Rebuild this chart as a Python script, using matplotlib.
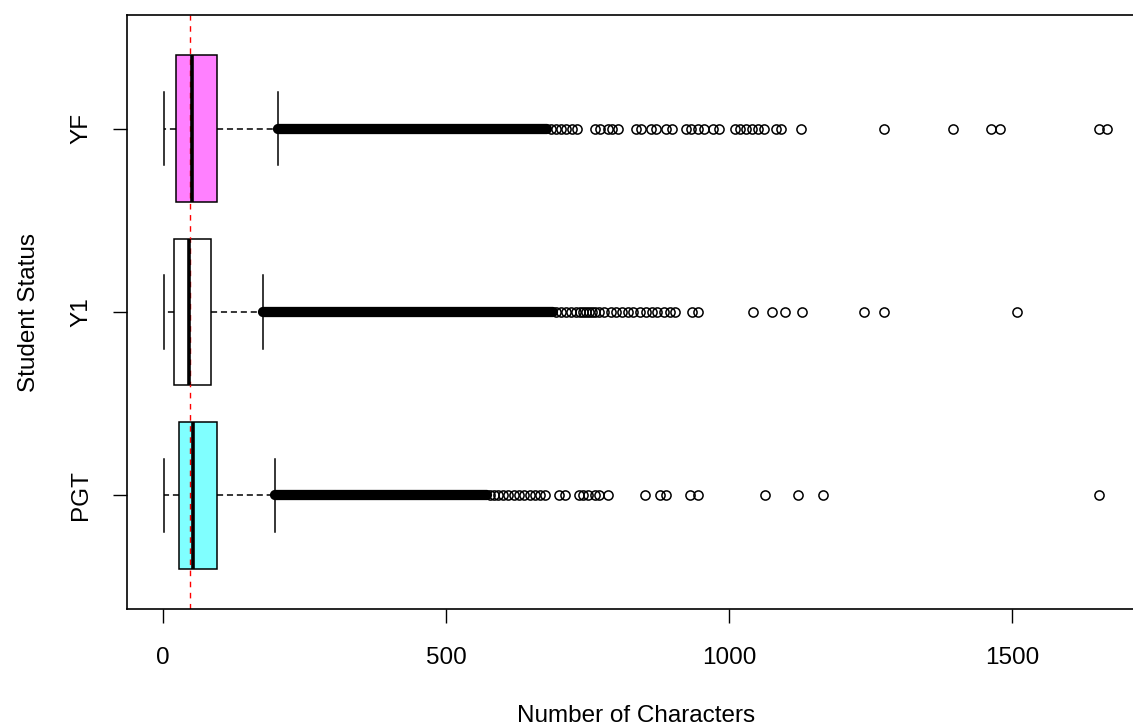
import matplotlib.pyplot as plt

groups = ["PGT", "Y1", "YF"]
box_colors = ["#80FFFF", "#FFFFFF", "#FF80FF"]

# five-number summaries (characters per post)
whis_lo = [2, 2, 2]
q1 = [28, 19, 22]
median = [53, 45, 50]
q3 = [95, 84, 95]
whis_hi = [197, 177, 202]

overall_median = 47

# stretch where the outlier circles overlap into a solid run
dense_from = [197, 177, 202]
dense_to = [572, 689, 678]

# the outliers past the solid run
sparse_pgt = [578, 585, 592, 601, 610, 620, 629, 638, 648, 657, 666, 675, 700, 710,
              735, 742, 751, 762, 770, 785, 852, 878, 889, 931, 944, 1064, 1122,
              1166, 1654]
sparse_y1 = [694, 703, 712, 721, 730, 737, 742, 747, 753, 758, 763, 770, 779, 792,
             800, 811, 822, 830, 843, 853, 864, 873, 885, 896, 905, 935, 945, 1042,
             1076, 1099, 1128, 1239, 1274, 1509]
sparse_yf = [686, 694, 703, 712, 723, 731, 763, 772, 785, 793, 804, 836, 845, 862,
             871, 889, 899, 924, 933, 945, 956, 972, 982, 1011, 1019, 1030, 1041,
             1051, 1062, 1083, 1092, 1127, 1274, 1395, 1462, 1479, 1654, 1668]
sparse = [sparse_pgt, sparse_y1, sparse_yf]

plt.rcParams["font.family"] = ["Liberation Sans", "DejaVu Sans"]

fig = plt.figure(figsize=(11.33, 7.26), dpi=100)
ax = fig.add_axes([127 / 1133, 117 / 726, 0.8987, 594 / 726])

stats = []
for i in range(3):
    stats.append(dict(med=median[i], q1=q1[i], q3=q3[i],
                      whislo=whis_lo[i], whishi=whis_hi[i], fliers=sparse[i]))

pos = [1, 2, 3]
bp = ax.bxp(stats, positions=pos, widths=0.8, capwidths=0.4,
            orientation="horizontal", patch_artist=True,
            boxprops=dict(edgecolor="black", linewidth=1.1),
            medianprops=dict(color="black", linewidth=2.6),
            whiskerprops=dict(color="black", linewidth=1.1, linestyle=(0, (4, 2.5))),
            capprops=dict(color="black", linewidth=1.1),
            flierprops=dict(marker="o", markerfacecolor="none",
                            markeredgecolor="black", markersize=6.6,
                            markeredgewidth=1.1, linestyle="none"))
for patch, c in zip(bp["boxes"], box_colors):
    patch.set_facecolor(c)

for i in range(3):
    ax.plot([dense_from[i], dense_to[i]], [pos[i], pos[i]], color="black",
            linewidth=7.4, solid_capstyle="round")

ax.axvline(overall_median, color="red", linestyle=(0, (4, 4)), linewidth=1.0)

ax.set_xlim(-64, 1735)
ax.set_ylim(0.38, 3.62)
ax.set_xticks([0, 500, 1000, 1500])
ax.set_yticks(pos)
ax.set_yticklabels(groups, rotation=90, va="center")
ax.tick_params(axis="x", pad=17)
ax.tick_params(axis="y", pad=15)
ax.tick_params(length=10, width=1.0, labelsize=17.5)
for s in ax.spines.values():
    s.set_linewidth(1.2)

ax.set_xlabel("Number of Characters", fontsize=17.5, labelpad=26)
ax.set_ylabel("Student Status", fontsize=17.5, labelpad=22)

fig.savefig("out.png", dpi=100)
